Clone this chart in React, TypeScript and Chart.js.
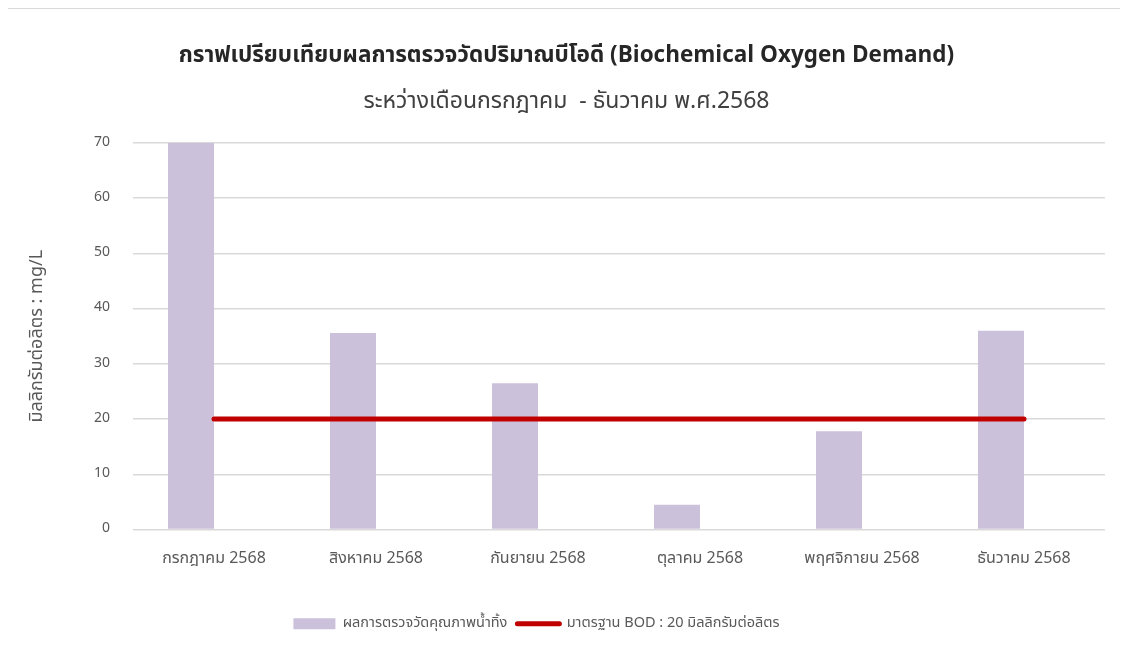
import React, { useEffect, useRef } from "react";
import { Chart, registerables } from "chart.js";

Chart.register(...registerables);

const categories = [
  "กรกฎาคม 2568",
  "สิงหาคม 2568",
  "กันยายน 2568",
  "ตุลาคม 2568",
  "พฤศจิกายน 2568",
  "ธันวาคม 2568",
];
const measuredValues = [70, 35.6, 26.5, 4.5, 17.8, 36.0];
const standardValues = [20, 20, 20, 20, 20, 20];
const measuredLabel = "ผลการตรวจวัดคุณภาพน้ำทิ้ง";
const standardLabel = "มาตรฐาน BOD : 20 มิลลิกรัมต่อลิตร";
const titleText = "กราฟเปรียบเทียบผลการตรวจวัดปริมาณบีโอดี (Biochemical Oxygen Demand)";
const subtitleText = "ระหว่างเดือนกรกฎาคม  - ธันวาคม พ.ศ.2568";
const yAxisTitle = "มิลลิกรัมต่อลิตร : mg/L";

const FONT = "'Noto Sans Thai', 'Leelawadee UI', Tahoma, 'Noto Sans', sans-serif";

const legendShift = {
  id: "legendShift",
  afterLayout(chart: any) {
    const lg = chart.legend;
    if (lg) {
      lg.left -= 30;
      lg.right -= 30;
    }
  },
};

export default function App() {
  const ref = useRef<HTMLCanvasElement | null>(null);

  useEffect(() => {
    if (!ref.current) return;
    Chart.defaults.font.family = FONT;
    const chart = new Chart(ref.current, {
      type: "bar",
      plugins: [legendShift],
      data: {
        labels: categories,
        datasets: [
          {
            type: "line",
            label: standardLabel,
            data: standardValues,
            borderColor: "#C00000",
            backgroundColor: "#C00000",
            borderWidth: 5,
            borderCapStyle: "round",
            pointRadius: 0,
            order: 0,
          } as any,
          {
            type: "bar",
            label: measuredLabel,
            data: measuredValues,
            backgroundColor: "#CCC1DA",
            borderWidth: 0,
            barPercentage: 1,
            categoryPercentage: 0.568,
            order: 1,
          },
          {
            type: "bar",
            label: "_spacer",
            data: categories.map(() => null),
            backgroundColor: "rgba(0,0,0,0)",
            barPercentage: 1,
            categoryPercentage: 0.568,
            order: 2,
          },
        ],
      },
      options: {
        responsive: false,
        animation: false,
        devicePixelRatio: 1,
        layout: { padding: { left: 20, right: 23, top: 0, bottom: 16 } },
        plugins: {
          tooltip: { enabled: false },
          title: {
            display: true,
            text: titleText,
            color: "#262626",
            font: { size: 22.5, weight: "bold", family: FONT },
            padding: { top: 34.5, bottom: 0 },
          },
          subtitle: {
            display: true,
            text: subtitleText,
            color: "#404040",
            font: { size: 23, weight: "normal", family: FONT },
            padding: { top: 18.7, bottom: 26.2 },
          },
          legend: {
            position: "bottom",
            labels: {
              color: "#595959",
              font: { size: 14.5, family: FONT },
              usePointStyle: true,
              pointStyleWidth: 42,
              boxHeight: 11,
              padding: 10,
              generateLabels: () => {
                return [
                  {
                    text: measuredLabel,
                    fillStyle: "#CCC1DA",
                    strokeStyle: "#CCC1DA",
                    lineWidth: 0,
                    pointStyle: "rect",
                    fontColor: "#595959",
                    datasetIndex: 1,
                    hidden: false,
                  },
                  {
                    text: standardLabel,
                    fillStyle: "#C00000",
                    strokeStyle: "#C00000",
                    lineWidth: 5,
                    lineCap: "round",
                    pointStyle: "line",
                    fontColor: "#595959",
                    datasetIndex: 0,
                    hidden: false,
                  },
                ] as any;
              },
            },
          },
        },
        scales: {
          x: {
            grid: { display: false, drawTicks: false },
            border: { display: false },
            ticks: { color: "#595959", font: { size: 16, family: FONT }, padding: 21 },
            afterFit: (s: any) => {
              s.height = 77;
            },
          },
          y: {
            min: 0,
            max: 70,
            ticks: { stepSize: 10, color: "#595959", font: { size: 14, family: FONT }, padding: 23 },
            grid: { color: "#D9D9D9", lineWidth: 1.5, drawTicks: false },
            border: { display: false },
            title: {
              display: true,
              text: yAxisTitle,
              color: "#595959",
              font: { size: 18, family: FONT },
              padding: { top: 0, bottom: 0 },
            },
            afterFit: (s: any) => {
              s.width = 105;
            },
          },
        },
      },
    });
    return () => chart.destroy();
  }, []);

  return (
    <div
      style={{
        marginLeft: -2,
        marginTop: -1,
        width: 1122,
        height: 650,
        borderTop: "2px solid #d9d9d9",
        borderLeft: "2px solid #d9d9d9",
        boxSizing: "border-box",
        background: "#fff",
      }}
    >
      <canvas ref={ref} width={1120} height={648} style={{ display: "block" }} />
    </div>
  );
}
